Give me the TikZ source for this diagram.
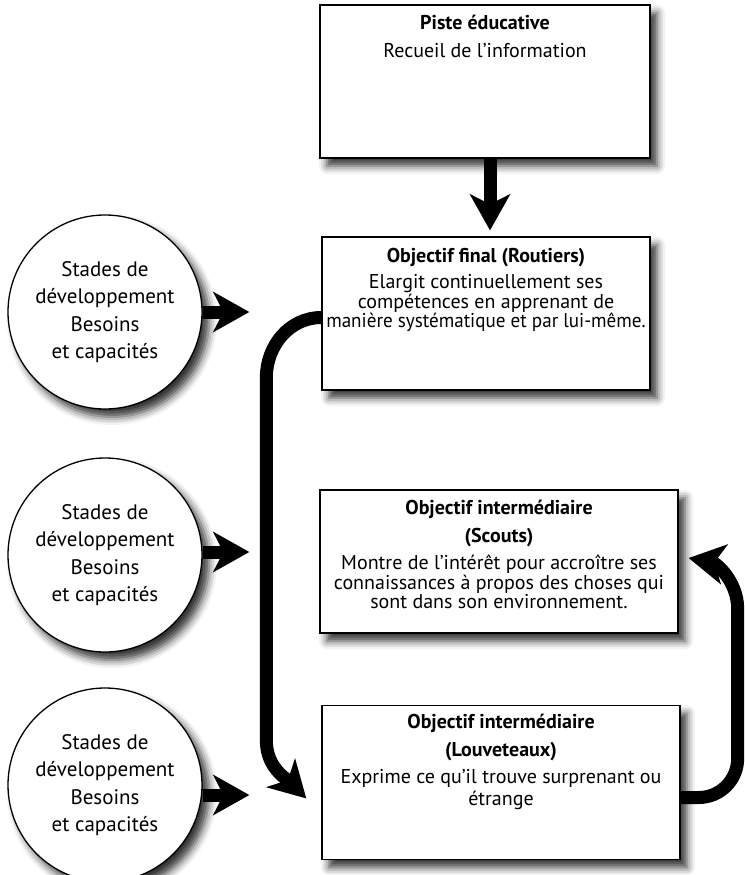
\documentclass[tikz,border=0pt]{standalone}
\usepackage{fontspec}
\setmainfont{PT Sans}
\usetikzlibrary{arrows.meta}
\usetikzlibrary{positioning}
\usetikzlibrary{shadows.blur}

\begin{document}
\begin{tikzpicture}
    [
    x=1pt, y=1pt,
    ombre/.style={blur shadow={shadow xshift=7pt, shadow yshift=-8pt, shadow blur radius=8pt, shadow opacity=80}},
    bloc/.style={draw, line width=1.3pt, fill=white, inner sep=0pt, ombre},
    stade/.style={circle, draw, line width=1.3pt, fill=white, minimum size=194pt, inner sep=0pt, ombre,
      align=center, font=\fontsize{21}{27.5}\selectfont},
    texte/.style={anchor=north, inner sep=0pt, align=center, font=\fontsize{20}{19.5}\selectfont},
    fleche/.style={line width=13pt, -{Stealth[length=36pt, width=40pt, inset=10pt]}},
    ]
    \useasboundingbox (0,0) rectangle (744,-875);

    % les objectifs
    \node (piste) at (485,-81.5) [bloc, minimum width=330pt, minimum height=153pt] {};
    \node (final) at (486,-313.5) [bloc, minimum width=328pt, minimum height=153pt] {};
    \node (scouts) at (499,-561.5) [bloc, minimum width=358pt, minimum height=143pt] {};
    \node (louv) at (501,-782.5) [bloc, minimum width=358pt, minimum height=154pt] {};

    \node (piste-txt) at ([yshift=-11pt]piste.north) [texte]
      {\textbf{Piste éducative}\\[8pt]Recueil de l’information};
    \node (final-txt) at ([yshift=-11.5pt]final.north) [texte]
      {\textbf{Objectif final (Routiers)}\\[7pt]Elargit continuellement ses\\compétences en apprenant de\\\scalebox{0.955}[1]{manière systématique et par lui-même.}};
    \node (scouts-txt) at ([yshift=-11pt]scouts.north) [texte]
      {\textbf{Objectif intermédiaire}\\[8pt]\textbf{(Scouts)}\\[8pt]Montre de l’intérêt pour accroître ses\\connaissances à propos des choses qui\\sont dans son environnement.};
    \node (louv-txt) at ([yshift=-9.5pt]louv.north) [texte]
      {\textbf{Objectif intermédiaire}\\[8pt]\textbf{(Louveteaux)}\\[8pt]Exprime ce qu’il trouve surprenant ou\\[2pt]étrange};

    % les stades
    \node (c1) at (105,-312) [stade] {Stades de\\développement\\Besoins\\et capacités};
    \node (c2) at (105,-555) [stade] {Stades de\\développement\\Besoins\\et capacités};
    \node (c3) at (105,-785) [stade] {Stades de\\développement\\Besoins\\et capacités};

    \draw [fleche, shorten >=6pt] ([xshift=5pt]piste.south) to ([xshift=5pt]piste.south |- final.north);
    \draw [fleche, shorten >=72pt] (c1.east) to (c1.east -| final.west);
    \draw [fleche, shorten >=70pt] ([yshift=3pt]c2.east) to ([yshift=3pt]c2.east -| scouts.west);
    \draw [fleche, shorten >=72pt] ([yshift=-10pt]c3.east) to ([yshift=-10pt]c3.east -| louv.west);

    \draw [fleche] ([yshift=-4pt]final.west) to [out=180, in=90] ++(-55,-60) -- ++(0,-363)
      to [out=-90, in=135] ([xshift=-15pt, yshift=-16pt]louv.west);
    \draw [fleche] ([yshift=-15pt]louv.east) -- ++(18,0) to [out=0, in=-90] ++(39,39) -- ++(0,150)
      to [out=90, in=-10] ([xshift=10pt, yshift=3.5pt]scouts.east);
  \end{tikzpicture}
\end{document}
